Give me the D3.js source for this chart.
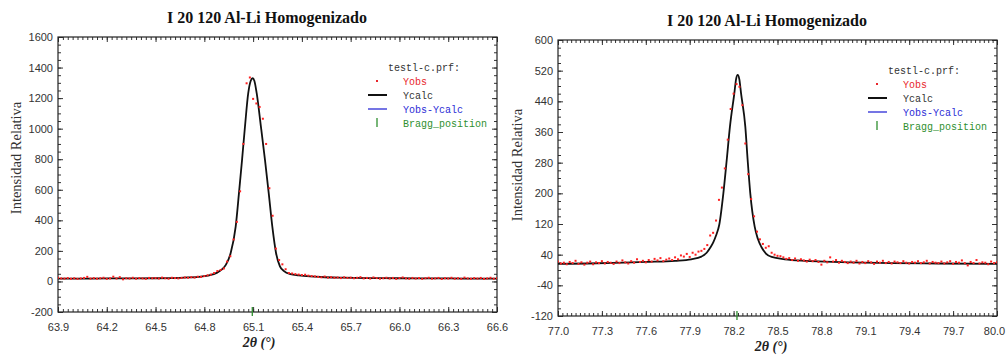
<!DOCTYPE html>
<meta charset="utf-8">
<style>
body { margin: 0; background: #fff; }
.tick text { font-family: "Liberation Sans", Arial, sans-serif; font-size: 11px; fill: #333; }
.tick line { stroke: #333; }
.title { font-family: "Liberation Serif", "Times New Roman", serif; font-weight: bold; font-size: 16px; fill: #111; }
.ylabel { font-family: "Liberation Serif", "Times New Roman", serif; font-size: 14.5px; fill: #333; }
.xlabel { font-family: "Liberation Serif", "Times New Roman", serif; font-weight: bold; font-style: italic; font-size: 14px; fill: #222; }
.legend text { font-family: "Liberation Mono", "DejaVu Sans Mono", monospace; font-size: 10px; }
</style>
<body>
<script src="https://cdnjs.cloudflare.com/ajax/libs/d3/7.8.5/d3.min.js"></script>
<script>

// ---- data ----
var panelTitle = "I 20 120 Al-Li Homogenizado";
var yLabel = "Intensidad Relativa";
var xLabel = "2\u03b8 (\u00b0)";
var legendHeader = "testl-c.prf:";
var legendLabels = ["Yobs", "Ycalc", "Yobs-Ycalc", "Bragg_position"];

// left panel
var leftXTicks = [63.9, 64.2, 64.5, 64.8, 65.1, 65.4, 65.7, 66.0, 66.3, 66.6];
var leftYTicks = [-200, 0, 200, 400, 600, 800, 1000, 1200, 1400, 1600];
var leftObsStart = 63.90, leftObsStep = 0.02;
var leftObs = [
  24, 20, 19, 22, 18, 21, 17, 20, 23, 30,
  19, 22, 18, 21, 24, 17, 20, 31, 19, 28,
  14, 21, 19, 24, 18, 22, 20, 17, 23, 21,
  22, 19, 25, 21, 18, 24, 22, 20, 23, 26,
  24, 28, 25, 31, 30,
  35, 40, 45, 55, 68,
  75, 85, 130, 165, 275, 390, 590, 900, 1297, 1335,
  1195, 1165, 1142, 1065, 900, 610, 430, 215, 140, 112,
  80, 55, 52, 48, 45, 42, 44, 38, 35, 33,
  30, 27, 32, 25, 28, 24, 26, 22, 27, 23,
  25, 21, 24, 28, 20, 23, 19, 26, 22, 18,
  21, 24, 19, 23, 17, 22, 26, 20, 18, 23,
  19, 22, 17, 21, 24, 18, 20, 23, 16, 21,
  19, 24, 18, 21, 17, 25, 20, 18, 22, 19,
  23, 17, 20, 24, 18, 21
];
var leftCalc = [
  [63.90, 19], [64.10, 19], [64.30, 20], [64.50, 21], [64.60, 22], [64.70, 26],
  [64.78, 32], [64.83, 40], [64.876, 56], [64.91, 80], [64.933, 110], [64.962, 186],
  [64.993, 360], [65.013, 578], [65.032, 796], [65.050, 1014], [65.070, 1232],
  [65.085, 1312], [65.097, 1330], [65.108, 1312], [65.122, 1232], [65.148, 1014],
  [65.173, 796], [65.196, 578], [65.218, 360], [65.241, 186], [65.265, 99],
  [65.29, 68], [65.33, 48], [65.38, 40], [65.45, 33], [65.52, 29], [65.65, 25],
  [65.80, 22], [66.00, 21], [66.20, 20], [66.40, 19], [66.60, 18]
];
var leftBragg = [65.095];

// right panel
var rightXTicks = [77.0, 77.3, 77.6, 77.9, 78.2, 78.5, 78.8, 79.1, 79.4, 79.7, 80.0];
var rightYTicks = [-120, -40, 40, 120, 200, 280, 360, 440, 520, 600];
var rightObsStart = 77.00, rightObsStep = 0.02;
var rightObs = [
  22, 17, 19, 15, 21, 18, 24, 16, 20, 14,
  19, 22, 15, 20, 18, 23, 17, 21, 19, 16,
  22, 18, 25, 20, 17, 23, 19, 28, 21, 24,
  20, 26, 22, 29, 25, 31, 23, 27, 30, 26,
  33, 28, 38, 35, 42, 34, 45, 40, 48, 50,
  55, 65, 90, 97, 129, 183, 215, 265, 340, 420,
  460, 485, 478, 430, 330, 250, 185, 140, 100, 80,
  68, 58, 62, 45, 40, 37, 36, 33, 29, 31,
  26, 30, 24, 28, 25, 22, 27, 23, 26, 21,
  14, 24, 20, 33, 22, 26, 19, 24, 21, 18,
  22, 19, 24, 17, 21, 18, 23, 20, 16, 22,
  19, 24, 18, 21, 17, 22, 20, 18, 23, 19,
  17, 21, 19, 23, 18, 20, 24, 17, 21, 19,
  18, 22, 17, 20, 23, 16, 21, 19, 25, 18,
  12, 21, 18, 26, 17, 20, 19, 15, 22, 18, 20
];
var rightCalc = [
  [77.00, 16], [77.20, 17], [77.45, 19], [77.60, 21], [77.80, 24], [77.91, 28],
  [77.98, 35], [78.016, 45], [78.04, 58], [78.061, 72], [78.08, 90], [78.102, 118],
  [78.130, 200], [78.153, 287], [78.175, 374], [78.205, 461], [78.217, 498],
  [78.228, 509], [78.239, 498], [78.251, 461], [78.280, 374], [78.296, 287],
  [78.314, 200], [78.344, 113], [78.365, 82], [78.39, 60], [78.421, 43], [78.46, 34],
  [78.55, 28], [78.70, 24], [78.82, 22], [79.00, 20], [79.28, 18], [79.60, 17],
  [80.00, 16]
];
var rightBragg = [78.223];

var legendColors = ["#e8262b", "#333", "#2b2bd6", "#2f8f2f"];

var svg = d3.select("body").append("svg")
    .attr("width", 1006)
    .attr("height", 356);

function drawPanel(p) {
  var x = d3.scaleLinear().domain(p.xDomain).range([0, p.width]);
  var y = d3.scaleLinear().domain(p.yDomain).range([p.height, 0]);

  var g = svg.append("g")
      .attr("transform", "translate(" + p.left + "," + p.top + ")");

  svg.append("text").attr("class", "title")
      .attr("x", p.titleX).attr("y", p.titleY)
      .attr("text-anchor", "middle").text(panelTitle);

  svg.append("text").attr("class", "ylabel")
      .attr("transform", "translate(" + p.ylabelX + "," + p.ylabelY + ") rotate(-90)")
      .attr("text-anchor", "middle").text(yLabel);

  svg.append("text").attr("class", "xlabel")
      .attr("x", p.xlabelX).attr("y", p.xlabelY)
      .attr("text-anchor", "middle").text(xLabel);

  // minor ticks
  var xMinor = d3.range(p.xDomain[0], p.xDomain[1] + 1e-6, p.xMinorStep);
  var yMinor = d3.range(p.yDomain[0], p.yDomain[1] + 1e-6, p.yMinorStep);

  function axisGroup(axis, tr) {
    var a = g.append("g").attr("transform", tr).call(axis);
    a.select(".domain").remove();
    return a;
  }

  axisGroup(d3.axisBottom(x).tickValues(xMinor).tickSize(-3).tickFormat(""), "translate(0," + p.height + ")");
  axisGroup(d3.axisTop(x).tickValues(xMinor).tickSize(-3).tickFormat(""), "translate(0,0)");
  axisGroup(d3.axisLeft(y).tickValues(yMinor).tickSize(-3).tickFormat(""), "translate(0,0)");
  axisGroup(d3.axisRight(y).tickValues(yMinor).tickSize(-3).tickFormat(""), "translate(" + p.width + ",0)");

  var xa = axisGroup(d3.axisBottom(x).tickValues(p.xTicks).tickSize(-5).tickPadding(11)
      .tickFormat(d3.format(".1f")), "translate(0," + p.height + ")");
  // keep the last label inside the window
  xa.selectAll(".tick text").filter(function(d, i, n) { return i === n.length - 1; })
      .attr("dx", p.lastLabelShift);
  axisGroup(d3.axisTop(x).tickValues(p.xTicks).tickSize(-5).tickFormat(""), "translate(0,0)");
  axisGroup(d3.axisLeft(y).tickValues(p.yTicks).tickSize(-5).tickPadding(5)
      .tickFormat(function(d) { return String(d); }), "translate(0,0)");
  axisGroup(d3.axisRight(y).tickValues(p.yTicks).tickSize(-5).tickFormat(""), "translate(" + p.width + ",0)");

  g.append("rect")
      .attr("width", p.width).attr("height", p.height)
      .attr("fill", "none").attr("stroke", "#222").attr("stroke-width", 1.2);

  var clipId = "clip" + p.left;
  g.append("clipPath").attr("id", clipId)
    .append("rect").attr("width", p.width).attr("height", p.height);

  var plot = g.append("g").attr("clip-path", "url(#" + clipId + ")");

  var line = d3.line()
      .x(function(d) { return x(d[0]); })
      .y(function(d) { return y(d[1]); })
      .curve(d3.curveMonotoneX);

  plot.append("path")
      .datum(p.calc)
      .attr("fill", "none")
      .attr("stroke", "#111")
      .attr("stroke-width", 1.8)
      .attr("d", line);

  plot.selectAll(".obs")
      .data(p.obs)
    .enter().append("rect")
      .attr("class", "obs")
      .attr("x", function(d, i) { return x(p.obsStart + i * p.obsStep) - 1; })
      .attr("y", function(d) { return y(d) - 1; })
      .attr("width", 2).attr("height", 2)
      .attr("fill", "#ff2020");

  g.selectAll(".bragg")
      .data(p.bragg)
    .enter().append("line")
      .attr("class", "bragg")
      .attr("x1", function(d) { return x(d); })
      .attr("x2", function(d) { return x(d); })
      .attr("y1", p.height - 5).attr("y2", p.height + 4)
      .attr("stroke", "#2f8f2f").attr("stroke-width", 1.3);

  // legend
  var lg = svg.append("g").attr("class", "legend");
  lg.append("text")
      .attr("x", p.legendX + 11).attr("y", p.legendY + 3.5)
      .attr("fill", "#333").text(legendHeader);

  legendLabels.forEach(function(lab, i) {
    var cy = p.legendY + 14 * (i + 1);
    if (i === 0) {
      lg.append("rect").attr("x", p.legendX - 1).attr("y", cy - 1)
        .attr("width", 2).attr("height", 2).attr("fill", legendColors[0]);
    } else if (i === 1) {
      lg.append("line").attr("x1", p.legendX - 9).attr("x2", p.legendX + 10)
        .attr("y1", cy).attr("y2", cy).attr("stroke", "#111").attr("stroke-width", 2);
    } else if (i === 2) {
      lg.append("line").attr("x1", p.legendX - 9).attr("x2", p.legendX + 10)
        .attr("y1", cy).attr("y2", cy).attr("stroke", legendColors[2]).attr("stroke-width", 1.3);
    } else {
      lg.append("line").attr("x1", p.legendX).attr("x2", p.legendX)
        .attr("y1", cy - 5).attr("y2", cy + 4).attr("stroke", legendColors[3]).attr("stroke-width", 1.3);
    }
    lg.append("text")
        .attr("x", p.legendX + 26).attr("y", cy + 3.5)
        .attr("fill", legendColors[i]).text(lab);
  });
}

drawPanel({
  left: 58, top: 37, width: 439, height: 275,
  xDomain: [63.9, 66.6], yDomain: [-200, 1600],
  xTicks: leftXTicks, yTicks: leftYTicks, xMinorStep: 0.03, yMinorStep: 50,
  obs: leftObs, obsStart: leftObsStart, obsStep: leftObsStep,
  calc: leftCalc, bragg: leftBragg, lastLabelShift: 0,
  titleX: 267, titleY: 23, ylabelX: 21, ylabelY: 158, xlabelX: 259, xlabelY: 347,
  legendX: 377, legendY: 67
});

drawPanel({
  left: 558, top: 40, width: 439, height: 276,
  xDomain: [77.0, 80.0], yDomain: [-120, 600],
  xTicks: rightXTicks, yTicks: rightYTicks, xMinorStep: 0.03, yMinorStep: 20,
  obs: rightObs, obsStart: rightObsStart, obsStep: rightObsStep,
  calc: rightCalc, bragg: rightBragg, lastLabelShift: -3,
  titleX: 767, titleY: 26, ylabelX: 522, ylabelY: 165, xlabelX: 771, xlabelY: 351,
  legendX: 877, legendY: 70
});

</script>
</body>
